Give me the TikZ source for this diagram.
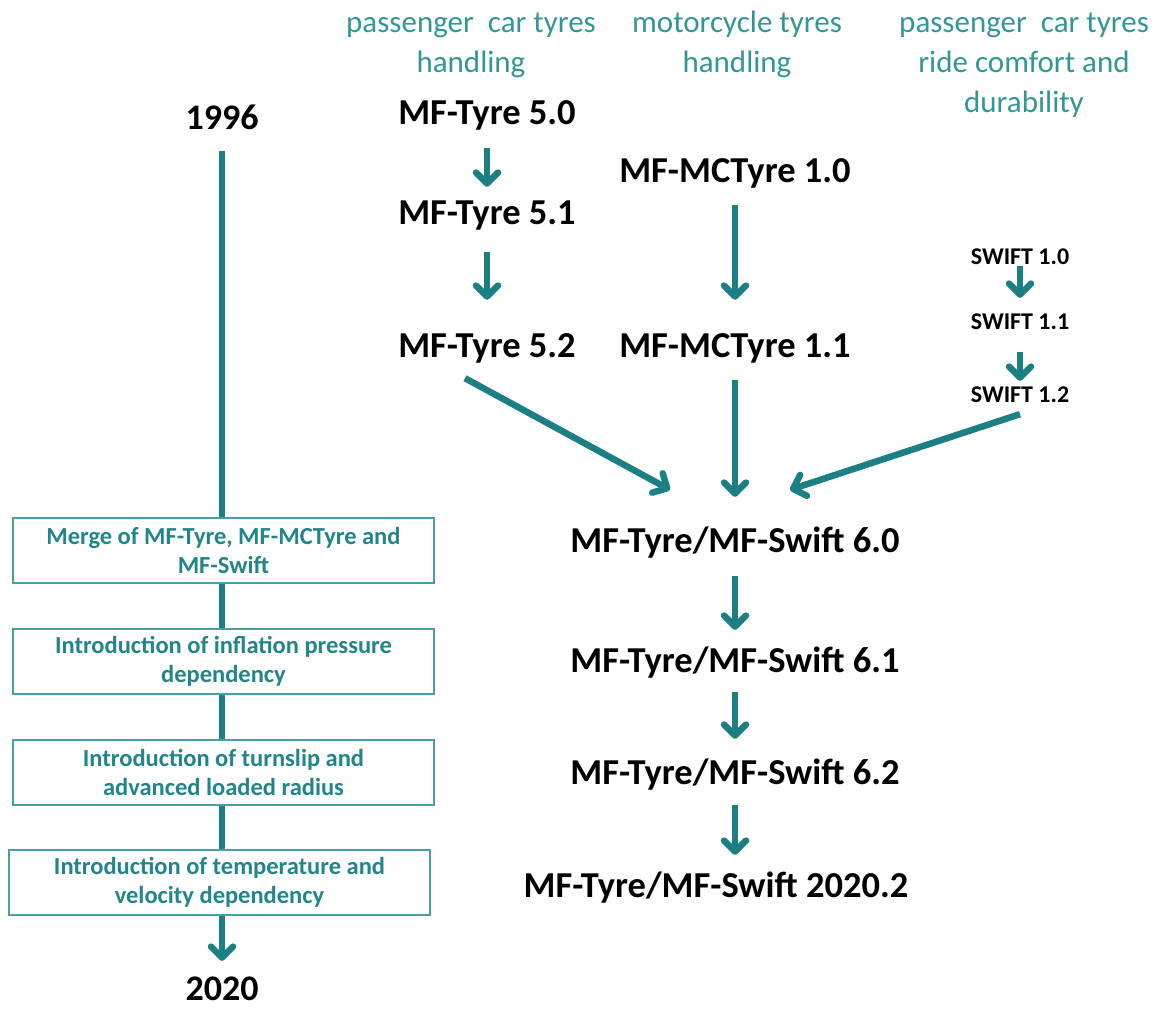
\documentclass[tikz,border=0pt]{standalone}
\usepackage{fontspec}
\setmainfont{Carlito}
\usetikzlibrary{arrows.meta}
\definecolor{arrteal}{RGB}{27,127,131}
\definecolor{hdrteal}{RGB}{50,150,152}
\definecolor{boxteal}{RGB}{70,160,164}
\definecolor{txtteal}{RGB}{33,133,137}
\newcommand{\hstrut}{\rule{0pt}{25pt}}
\begin{document}
\begin{tikzpicture}[x=1pt,y=-1pt,
  hdr/.style={text=hdrteal,font=\fontsize{31}{40}\selectfont,align=center,inner sep=0pt,anchor=north},
  lbl/.style={font=\bfseries\fontsize{36.5}{42}\selectfont,inner sep=0pt,text height=25pt,text depth=8pt},
  yr/.style={font=\bfseries\fontsize{36}{42}\selectfont,inner sep=0pt},
  sw/.style={font=\bfseries\fontsize{24}{28}\selectfont,inner sep=0pt},
  evt/.style={draw=boxteal,line width=1.6pt,fill=white,text=txtteal,font=\bfseries\fontsize{24.5}{29}\selectfont,align=center,minimum width=421pt,minimum height=65pt,inner sep=0pt},
  arr/.style={draw=arrteal,line width=6.5pt,-{Straight Barb[length=11pt,width=22pt,round]}}]
\useasboundingbox (0,0) rectangle (1156,1009);

% headers
\node[hdr] (h1) at (471,7) {\hstrut passenger~~car tyres\\handling};
\node[hdr] (h2) at (737,7) {\hstrut motorcycle tyres\\handling};
\node[hdr] (h3) at (1024,7) {\hstrut passenger~~car tyres\\ride comfort and\\durability};

% timeline
\node[yr] (y96) at (222,117) {1996};
\node[yr] (y20) at (222,989) {2020};
\draw[arr] ([yshift=-21pt]y96.south) -- ([yshift=16pt]y20.north);
\node[evt] (e1) at (223.5,550.5) {Merge of MF-Tyre, MF-MCTyre and\\MF-Swift};
\node[evt] (e2) at (223.5,661.5) {Introduction of inflation pressure\\dependency};
\node[evt] (e3) at (223.5,772.5) {Introduction of turnslip and\\advanced loaded radius};
\node[evt] (e4) at (219.5,882.5) {Introduction of temperature and\\velocity dependency};

% model nodes
\node[lbl] (t50) at (487,115.5) {MF-Tyre 5.0};
\node[lbl] (t51) at (487,215.5) {MF-Tyre 5.1};
\node[lbl] (t52) at (487,348.5) {MF-Tyre 5.2};
\node[lbl] (mc10) at (735,173.5) {MF-MCTyre 1.0};
\node[lbl] (mc11) at (735,348.5) {MF-MCTyre 1.1};
\node[sw] (sw10) at (1020,257) {SWIFT 1.0};
\node[sw] (sw11) at (1020,322) {SWIFT 1.1};
\node[sw] (sw12) at (1020,395) {SWIFT 1.2};
\node[lbl] (t60) at (735,543.5) {MF-Tyre/MF-Swift 6.0};
\node[lbl] (t61) at (735,663.5) {MF-Tyre/MF-Swift 6.1};
\node[lbl] (t62) at (735,775.5) {MF-Tyre/MF-Swift 6.2};
\node[lbl] (t20) at (716,888.5) {MF-Tyre/MF-Swift 2020.2};
\path (t62.south |- t20.north) coordinate (t20top);

% arrows
\draw[arr] ([yshift=-16pt]t50.south) -- ([yshift=12pt]t51.north);
\draw[arr] ([yshift=-20pt]t51.south) -- ([yshift=32pt]t52.north);
\draw[arr] ([yshift=-15pt]mc10.south) -- ([yshift=32pt]mc11.north);
\draw[arr] ([yshift=-1pt]sw10.south) -- ([yshift=16pt]sw11.north);
\draw[arr] ([yshift=-22pt]sw11.south) -- ([yshift=6pt]sw12.north);
\draw[arr] ([yshift=-15pt]mc11.south) -- ([yshift=30pt]t60.north);
\draw[arr] ([xshift=-22pt,yshift=-13pt]t52.south) -- ([xshift=-65pt,yshift=37pt]t60.north);
\draw[arr] ([yshift=-11pt]sw12.south) -- ([xshift=55pt,yshift=37pt]t60.north);
\draw[arr] ([yshift=-16pt]t60.south) -- ([yshift=17pt]t61.north);
\draw[arr] ([yshift=-12pt]t61.south) -- ([yshift=20pt]t62.north);
\draw[arr] ([yshift=-13pt]t62.south) -- ([yshift=17pt]t20top);
\end{tikzpicture}
\end{document}
